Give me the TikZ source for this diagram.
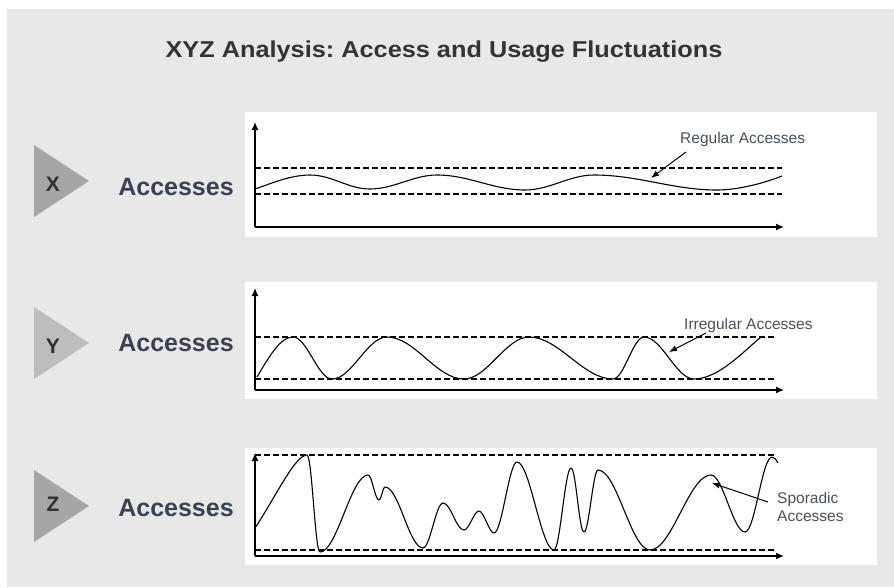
\documentclass[tikz,border=0pt]{standalone}
\usepackage{fontspec}
\setmainfont{Liberation Sans}
\newfontfamily\titlefont[FakeStretch=1.1]{Liberation Sans}
\newfontfamily\letterfont{Liberation Sans Bold}
\usetikzlibrary{arrows.meta}
\definecolor{bg}{HTML}{E8E8E8}
\definecolor{tridark}{HTML}{A6A6A6}
\definecolor{trilight}{HTML}{BDBDBD}
\definecolor{titlecol}{HTML}{333333}
\definecolor{lettercol}{HTML}{2E3038}
\definecolor{acccol}{HTML}{3B4150}
\definecolor{labcol}{HTML}{4A4F5A}
\frenchspacing
\begin{document}
\begin{tikzpicture}[x=1pt,y=-1pt,
  panel/.style={fill=white,draw=none},
  axis/.style={line width=1.3pt,-{Latex[length=8pt,width=7pt]}},
  limit/.style={line width=1.1pt,dash pattern=on 6pt off 3pt},
  curve/.style={line width=1.1pt,line join=round},
  annot/.style={line width=1pt,-{Latex[length=8pt,width=6pt]}},
  letter/.style={font=\letterfont\fontsize{21}{24}\selectfont,text=lettercol},
  acc/.style={font=\bfseries\fontsize{25}{29}\selectfont,text=acccol},
  lab/.style={font=\fontsize{15.5}{18.5}\selectfont,text=labcol,inner sep=0pt},
]
\useasboundingbox (0,0) rectangle (894,587);
\fill[bg] (7,9) rectangle (894,587);

\node[font=\titlefont\bfseries\fontsize{23}{27}\selectfont,text=titlecol] (title) at (444,52) {XYZ Analysis: Access and Usage Fluctuations};

% triangles
\fill[tridark] (34,145) -- (89,181) -- (34,217) -- cycle;
\fill[trilight] (34,307) -- (89,343) -- (34,379) -- cycle;
\fill[tridark] (34,470) -- (89,506) -- (34,542) -- cycle;
\node[letter] (lx) at (53,184) {X};
\node[letter] (ly) at (53,346) {Y};
\node[letter] (lz) at (53,504) {Z};
\node[acc] (ax) at (176,187) {Accesses};
\node[acc] (ay) at (176,343) {Accesses};
\node[acc] (az) at (176,508) {Accesses};

% panels
\fill[panel] (245,112) rectangle (877,237);
\fill[panel] (245,282) rectangle (877,399);
\fill[panel] (245,448) rectangle (877,565);

% ---------- X panel ----------
\coordinate (xo) at (255,227);
\coordinate (xy) at (255,122);
\coordinate (xx) at (784,227);
\draw[axis] (xo) -- (xy);
\draw[axis] (xo) -- (xx);
\draw[limit] (255,168) -- (782,168);
\draw[limit] (255,194) -- (782,194);
\draw[curve] (255,189) .. controls +(15,-5) and +(-20,0) .. (310,175)
  .. controls +(22,0) and +(-22,0) .. (370,189)
  .. controls +(24,0) and +(-24,0) .. (437,175)
  .. controls +(32,0) and +(-32,0) .. (525,190)
  .. controls +(25,0) and +(-25,0) .. (594,175)
  .. controls +(44,0) and +(-44,0) .. (717,190)
  .. controls +(23,0) and +(-15,6) .. (782,176);
\node[lab,anchor=west] (rl) at (680,139) {Regular Accesses};
\coordinate (rt) at (686,152);
\coordinate (rh) at (651,178);
\draw[annot] (rt) -- (rh);

% ---------- Y panel ----------
\coordinate (yo) at (255,390);
\coordinate (yy) at (255,288);
\coordinate (yx) at (784,390);
\draw[axis] (yo) -- (yy);
\draw[axis] (yo) -- (yx);
\draw[limit] (255,337) -- (774,337);
\draw[limit] (255,379) -- (774,379);
\draw[curve] (257,377) .. controls +(12,-20) and +(-13,0) .. (293,337)
  .. controls +(14,0) and +(-14,0) .. (332,379)
  .. controls +(20,0) and +(-20,0) .. (387,337)
  .. controls +(28,0) and +(-28,0) .. (464,379)
  .. controls +(23,0) and +(-23,0) .. (529,337)
  .. controls +(30,0) and +(-30,0) .. (613,379)
  .. controls +(11,0) and +(-11,0) .. (644,337)
  .. controls +(18,0) and +(-18,0) .. (694,379)
  .. controls +(25,0) and +(-15,12) .. (761,337);
\node[lab,anchor=west] (il) at (684,325) {Irregular Accesses};
\coordinate (it) at (706,333);
\coordinate (ih) at (669,352);
\draw[annot] (it) -- (ih);

% ---------- Z panel ----------
\coordinate (zo) at (255,556);
\coordinate (zy) at (255,453);
\coordinate (zx) at (784,556);
\draw[axis] (zo) -- (zy);
\draw[axis] (zo) -- (zx);
\draw[limit] (255,455) -- (774,455);
\draw[limit] (255,550) -- (774,550);
\draw[curve] (255,528) .. controls +(20,-30) and +(-12,0) .. (307,455)
  .. controls +(5,0) and +(-5,0) .. (320,552)
  .. controls +(17,0) and +(-17,0) .. (368,475)
  .. controls +(4,0) and +(-4,0) .. (379,500)
  .. controls +(2,0) and +(-2,0) .. (385,487)
  .. controls +(14,0) and +(-14,0) .. (423,548)
  .. controls +(7,0) and +(-7,0) .. (443,503)
  .. controls +(8,0) and +(-8,0) .. (464,530)
  .. controls +(5,0) and +(-5,0) .. (479,511)
  .. controls +(5,0) and +(-5,0) .. (494,533)
  .. controls +(8,0) and +(-8,0) .. (517,462)
  .. controls +(13,0) and +(-13,0) .. (554,550)
  .. controls +(6,0) and +(-6,0) .. (571,468)
  .. controls +(5,0) and +(-5,0) .. (584,532)
  .. controls +(5,0) and +(-5,0) .. (598,470)
  .. controls +(19,0) and +(-19,0) .. (650,550)
  .. controls +(22,0) and +(-22,0) .. (711,475)
  .. controls +(12,0) and +(-12,0) .. (745,532)
  .. controls +(10,0) and +(-10,0) .. (772,457)
  .. controls +(3,0) and +(-2,-3) .. (778,463);
\node[lab,anchor=west,align=left] (sl) at (777,507) {Sporadic\\Accesses};
\coordinate (st) at (768,502);
\coordinate (sh) at (712,483);
\draw[annot] (st) -- (sh);
\end{tikzpicture}
\end{document}
